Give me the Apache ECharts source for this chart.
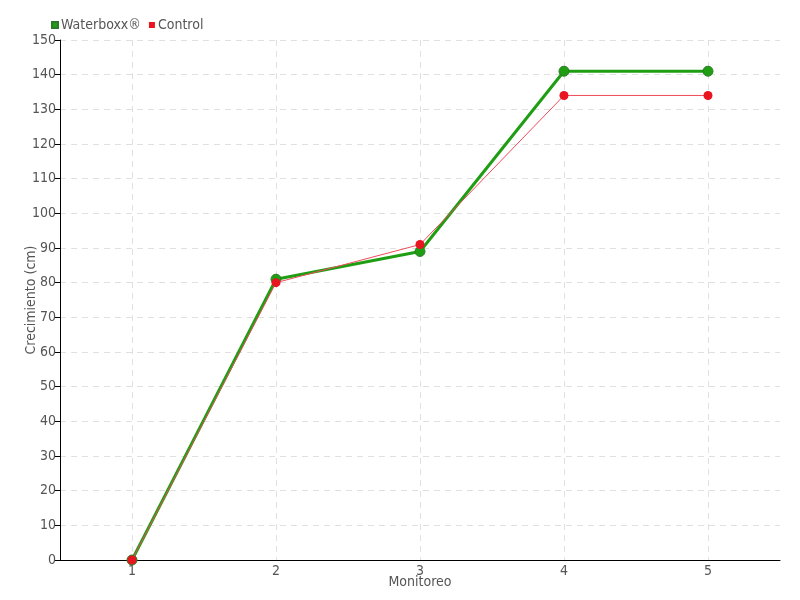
<!DOCTYPE html>
<html><head><meta charset="utf-8">
<script src="https://cdn.jsdelivr.net/npm/echarts@6/dist/echarts.min.js"></script>
<style>html,body{margin:0;padding:0;background:#fff}#c{width:800px;height:600px}</style>
</head><body><div id="c"></div>
<script>
var categories = ['1','2','3','4','5'];
var waterboxx = [0, 81, 89, 141, 141];
var control = [0, 80, 91, 134, 134];
var FONT = '"DejaVu Sans Condensed","Liberation Sans Narrow","DejaVu Sans",sans-serif';
var chart = echarts.init(document.getElementById('c'));
chart.setOption({
  animation: false,
  textStyle: {fontFamily: FONT},
  legend: {
    left: 46, top: 13, itemWidth: 6, itemHeight: 6, itemGap: 8,
    icon: 'rect',
    textStyle: {fontFamily: FONT, fontSize: 14, color: '#555', padding: [0,0,0,-2]},
    data: ['Waterboxx®', 'Control']
  },
  grid: {left: 60, right: 20, top: 40, bottom: 40, outerBoundsMode: 'none', containLabel: false},
  xAxis: {
    type: 'category', data: categories, boundaryGap: true,
    name: 'Monitoreo', nameLocation: 'middle', nameGap: 15, nameMoveOverlap: false,
    nameTextStyle: {fontFamily: FONT, fontSize: 14, color: '#555'},
    axisLine: {lineStyle: {color: '#000', width: 1}},
    axisTick: {alignWithLabel: true, length: 5, lineStyle: {color: '#000'}},
    axisLabel: {fontFamily: FONT, fontSize: 14, color: '#555', margin: 4},
    splitLine: {show: true, alignWithLabel: true, lineStyle: {type: [6,5], color: '#e0e0e0'}}
  },
  yAxis: {
    type: 'value', min: 0, max: 150, interval: 10,
    name: 'Crecimiento (cm)', nameLocation: 'middle', nameGap: 22, nameRotate: 90, nameMoveOverlap: false,
    nameTextStyle: {fontFamily: FONT, fontSize: 14, color: '#555'},
    axisLine: {show: true, lineStyle: {color: '#000', width: 1}},
    axisTick: {show: true, length: 5, lineStyle: {color: '#000'}},
    axisLabel: {fontFamily: FONT, fontSize: 14, color: '#555', margin: 4},
    splitLine: {show: true, lineStyle: {type: [6,5], color: '#e0e0e0'}}
  },
  series: [
    {
      name: 'Waterboxx®', type: 'line', data: waterboxx,
      symbol: 'circle', symbolSize: 10,
      itemStyle: {color: '#1f9e14', borderColor: '#2a7a2a', borderWidth: 1},
      lineStyle: {color: '#1f9e14', width: 3}, z: 2
    },
    {
      name: 'Control', type: 'line', data: control,
      symbol: 'circle', symbolSize: 9,
      itemStyle: {color: '#e8141f', borderColor: '#e8141f', borderWidth: 0},
      lineStyle: {color: '#f04a5a', width: 1}, z: 3
    }
  ]
});
</script></body></html>
